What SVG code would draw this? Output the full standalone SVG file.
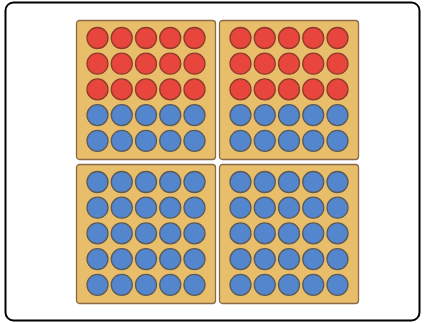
<svg xmlns="http://www.w3.org/2000/svg" xmlns:xlink="http://www.w3.org/1999/xlink" width="424" height="323" viewBox="0 0 424 323">
<style>
.frame{fill:#fff;stroke:#000;stroke-width:2}
.box{fill:#E8BE6A;stroke:#8A6A48;stroke-width:1.3}
.r{fill:#E8453C;stroke:#8E3B2B;stroke-width:1.3}
.b{fill:#5486CE;stroke:#5A5A5A;stroke-width:1.3}
</style>
<defs>
<circle id="R" r="10.5" class="r"/>
<circle id="B" r="10.5" class="b"/>
<g id="row-r"><use href="#R" x="0"/><use href="#R" x="24.25"/><use href="#R" x="48.5"/><use href="#R" x="72.75"/><use href="#R" x="97"/></g>
<g id="row-b"><use href="#B" x="0"/><use href="#B" x="24.25"/><use href="#B" x="48.5"/><use href="#B" x="72.75"/><use href="#B" x="97"/></g>
</defs>
<rect class="frame" x="5.5" y="2.5" width="414" height="318" rx="8"/>
<g id="frame-top-left" transform="translate(76.5,20.5)">
<rect class="box" width="139" height="139" rx="3"/>
<use href="#row-r" x="21" y="17.5"/><use href="#row-r" x="21" y="43.2"/><use href="#row-r" x="21" y="68.9"/><use href="#row-b" x="21" y="94.6"/><use href="#row-b" x="21" y="120.3"/>
</g>
<g id="frame-top-right" transform="translate(219.5,20.5)">
<rect class="box" width="139" height="139" rx="3"/>
<use href="#row-r" x="21" y="17.5"/><use href="#row-r" x="21" y="43.2"/><use href="#row-r" x="21" y="68.9"/><use href="#row-b" x="21" y="94.6"/><use href="#row-b" x="21" y="120.3"/>
</g>
<g id="frame-bottom-left" transform="translate(76.5,164.5)">
<rect class="box" width="139" height="139" rx="3"/>
<use href="#row-b" x="21" y="17.5"/><use href="#row-b" x="21" y="43.2"/><use href="#row-b" x="21" y="68.9"/><use href="#row-b" x="21" y="94.6"/><use href="#row-b" x="21" y="120.3"/>
</g>
<g id="frame-bottom-right" transform="translate(219.5,164.5)">
<rect class="box" width="139" height="139" rx="3"/>
<use href="#row-b" x="21" y="17.5"/><use href="#row-b" x="21" y="43.2"/><use href="#row-b" x="21" y="68.9"/><use href="#row-b" x="21" y="94.6"/><use href="#row-b" x="21" y="120.3"/>
</g>
<g id="connectors"/>
</svg>
